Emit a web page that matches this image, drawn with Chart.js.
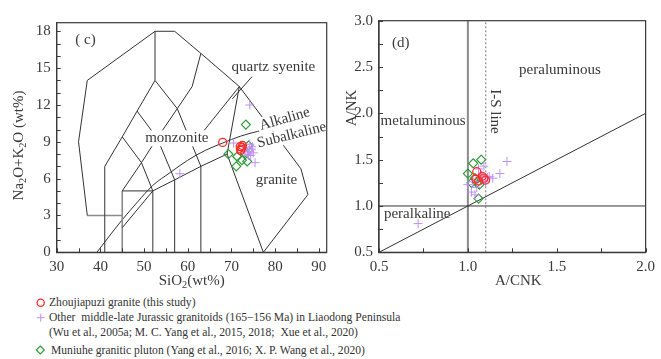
<!DOCTYPE html>
<html>
<head>
<meta charset="utf-8">
<script src="https://cdn.jsdelivr.net/npm/chart.js@4.4.1/dist/chart.umd.min.js"></script>
<style>
    body{margin:0;background:#fff;width:661px;height:359px;overflow:hidden;position:relative;
         font-family:"Liberation Serif","DejaVu Serif",serif;color:#333;}
    #grTas{position:absolute;left:0;top:0;}
    #grAn{position:absolute;left:340px;top:0;}
    #marks{position:absolute;left:0;top:290px;}
    .leg{position:absolute;left:49px;font-size:11.6px;line-height:15px;white-space:pre;}
</style>
</head>
<body>
<canvas id="grTas" width="340" height="290"></canvas>
<canvas id="grAn" width="321" height="290"></canvas>

<svg id="marks" width="80" height="69">
    <circle cx="40.7" cy="12.7" r="3.6" fill="none" stroke="#ff2b2b" stroke-width="1.3"/>
    <path d="M36.7 27.7h8M40.7 23.7v8" stroke="#c090f2" stroke-width="1"/>
    <path d="M40.3 56l4 4-4 4-4-4z" fill="none" stroke="#2f9a3a" stroke-width="1.2"/>
</svg>
<div class="leg" style="top:294.5px">Zhoujiapuzi granite (this study)</div>
<div class="leg" style="top:309.5px">Other  middle-late Jurassic granitoids (165−156 Ma) in Liaodong Peninsula</div>
<div class="leg" style="top:324.5px">(Wu et al., 2005a; M. C. Yang et al., 2015, 2018;  Xue et al., 2020)</div>
<div class="leg" style="top:343px;left:51px">Muniuhe granitic pluton (Yang et al., 2016; X. P. Wang et al., 2020)</div>

<script>
const serif = '"Liberation Serif", "DejaVu Serif", serif';
const ink = '#3a3a3a';

/* ejes */
const xTicksTas = [30, 40, 50, 60, 70, 80, 90];
const yTicksTas = [0, 3, 6, 9, 12, 15, 18];
const xTicksAn = [0.5, 1.0, 1.5, 2.0];
const yTicksAn = [0.5, 1.0, 1.5, 2.0, 2.5, 3.0];

/* (c) SiO2 vs Na2O+K2O */
const tasZhoujiapuzi = [[68.0, 8.95], [72.0, 8.6], [72.2, 8.4], [72.4, 8.55], [72.1, 8.3], [72.5, 8.7]];
const tasOther = [[74.2, 12.0], [58.2, 6.4], [70.5, 8.9], [73.5, 8.5], [74.1, 8.2], [74.6, 8.4], [75.0, 8.1],
                  [73.9, 7.9], [73.1, 8.2], [75.4, 7.3], [74.2, 8.8], [74.8, 8.6], [73.7, 8.0], [74.4, 7.9]];
const tasMuniuhe = [[73.3, 10.4], [69.3, 8.0], [71.3, 7.8], [72.4, 7.5], [73.6, 7.4], [71.1, 7.0], [73.9, 8.7], [73.0, 8.1]];

/* (d) A/CNK vs A/NK */
const anZhoujiapuzi = [[1.05, 1.37], [1.045, 1.29], [1.08, 1.32], [1.10, 1.28], [1.09, 1.30], [1.06, 1.27]];
const anOther = [[0.72, 0.81], [1.22, 1.48], [1.18, 1.35], [1.09, 1.43], [1.14, 1.30], [1.03, 1.26], [1.02, 1.15],
                 [1.04, 1.12], [1.0, 1.23], [1.10, 1.26], [1.075, 1.33], [1.12, 1.32], [1.06, 1.40], [1.08, 1.28],
                 [1.11, 1.31], [1.05, 1.20]];
const anMuniuhe = [[1.075, 1.50], [1.03, 1.46], [1.0, 1.35], [1.02, 1.25], [1.06, 1.08], [1.065, 1.23], [1.04, 1.30], [1.05, 1.25]];

/* limites de campos (Middlemost 1994) */
const tasFieldLines = [
    [[37, 14], [52.5, 18], [57, 18], [63, 16.2], [71.8, 13.5], [85.9, 6.8], [87.5, 4.7], [77.3, 0]],
    [[37, 14], [35, 9], [37, 3]],
    [[45, 5], [52, 5]],
    [[52, 0], [52, 5]],
    [[41, 0], [41, 7], [45, 9.4], [48.4, 11.5], [52.5, 14], [52.5, 18]],
    [[45, 9.4], [49.4, 7.3], [52, 5]],
    [[45, 5], [49.4, 7.3], [53, 9.3], [57.6, 11.7], [61, 13.5], [63, 16.2]],
    [[48.4, 11.5], [53, 9.3], [57, 5.9]],
    [[52.5, 14], [57.6, 11.7], [63, 7]],
    [[57, 0], [57, 5.9]],
    [[63, 0], [63, 7]],
    [[45, 2], [52, 5], [57, 5.9], [63, 7], [69, 8]],
    [[71.8, 13.5], [69, 8], [77.3, 0]],
    [[61, 8.7], [71.8, 13.5]],
    [[74.7, 14.3], [70.2, 12.5]]
];
const tasGreyLines = [
    [[37, 3], [45, 3]],
    [[45, 0], [45, 5]]
];
const alkalineCurve = [[39.2, 0], [42, 1.3], [45, 2.65], [48.5, 4.1], [52, 5.45], [56, 6.5], [60, 7.5],
                       [64, 8.3], [68, 8.9], [72, 9.45], [76, 9.85], [81, 10.25]];

const anDiagonal = [[0.5, 0.5], [2.0, 2.0]];
const anHorizontal = [[0.5, 1.0], [2.0, 1.0]];
const anMetaLine = [[1.0, 0.5], [1.0, 3.0]];
const anIsLine = [[1.1, 0.5], [1.1, 3.0]];

const toXY = arr => arr.map(p => ({x: p[0], y: p[1]}));

function lineSet(pts, color, width, extra){
    return Object.assign({
        data: toXY(pts), showLine: true, pointRadius: 0, borderColor: color,
        borderWidth: width, fill: false, order: 10
    }, extra || {});
}

function pointSets(zhou, other, muniuhe){
    return [
        {data: toXY(zhou), pointStyle: 'circle', pointRadius: 4, borderColor: '#ff2b2b',
         backgroundColor: 'rgba(0,0,0,0)', borderWidth: 1.3, order: 1},
        {data: toXY(other), pointStyle: 'cross', pointRadius: 4.5, borderColor: '#c090f2',
         backgroundColor: '#c090f2', borderWidth: 1, order: 2},
        {data: toXY(muniuhe), pointStyle: 'rectRot', pointRadius: 4.5, borderColor: '#2f9a3a',
         backgroundColor: 'rgba(0,0,0,0)', borderWidth: 1.2, order: 3}
    ];
}

function scaleOpts(min, max, vals, fmt, fit){
    return {
        type: 'linear', min: min, max: max,
        grid: {display: false, drawTicks: false},
        border: {display: true, color: ink, width: 1.2},
        ticks: {color: ink, font: {family: serif, size: 15}, padding: 6, callback: v => fmt(v)},
        afterBuildTicks: s => { s.ticks = vals.map(v => ({value: v})); },
        afterFit: fit
    };
}

/* marco + marcas interiores */
const framePlugin = {
    id: 'framePlugin',
    afterDraw(chart, args, o){
        const {ctx, chartArea: a, scales: {x, y}} = chart;
        ctx.save();
        ctx.strokeStyle = ink;
        ctx.lineWidth = 1.2;
        ctx.strokeRect(a.left, a.top, a.right - a.left, a.bottom - a.top);
        ctx.lineWidth = 1;
        ctx.beginPath();
        for(let i = 0; ; i++){
            const v = x.min + i * o.xStep;
            if(v > x.max + 1e-9) break;
            const px = Math.round(x.getPixelForValue(v)) + 0.5;
            ctx.moveTo(px, a.bottom); ctx.lineTo(px, a.bottom - 4);
        }
        for(let i = 0; ; i++){
            const v = y.min + i * o.yStep;
            if(v > y.max + 1e-9) break;
            const py = Math.round(y.getPixelForValue(v)) + 0.5;
            ctx.moveTo(a.left, py); ctx.lineTo(a.left + 4, py);
        }
        ctx.stroke();
        ctx.restore();
    }
};

function richText(ctx, parts, x, y, size, rot){
    ctx.save();
    ctx.translate(x, y);
    ctx.rotate(rot);
    ctx.textBaseline = 'middle';
    ctx.textAlign = 'left';
    let w = 0;
    parts.forEach(p => { ctx.font = (p[1] ? size * 0.68 : size) + 'px ' + serif; w += ctx.measureText(p[0]).width; });
    let cx = -w / 2;
    parts.forEach(p => {
        ctx.font = (p[1] ? size * 0.68 : size) + 'px ' + serif;
        ctx.fillText(p[0], cx, p[1] ? size * 0.28 : 0);
        cx += ctx.measureText(p[0]).width;
    });
    ctx.restore();
}

/* etiquetas de campos y titulos */
const textPlugin = {
    id: 'textPlugin',
    afterDatasetsDraw(chart, args, o){
        const {ctx, chartArea: a, scales: {x, y}} = chart;
        ctx.save();
        ctx.fillStyle = ink;
        o.labels.forEach(l => {
            const px = x.getPixelForValue(l.x), py = y.getPixelForValue(l.y);
            ctx.save();
            ctx.translate(px, py);
            ctx.rotate((l.rot || 0) * Math.PI / 180);
            ctx.font = '15px ' + serif;
            ctx.textAlign = 'center';
            ctx.textBaseline = 'middle';
            if(l.bg){
                const w = ctx.measureText(l.text).width;
                ctx.fillStyle = '#fff';
                ctx.fillRect(-w / 2 - 2, -8, w + 4, 16);
                ctx.fillStyle = ink;
            }
            ctx.fillText(l.text, 0, 0);
            ctx.restore();
        });
        o.titles.forEach(t => {
            richText(ctx, t.parts, t.dx(a), t.dy(a), 15, t.rot * Math.PI / 180);
        });
        ctx.restore();
    }
};

const baseOpts = {
    responsive: false,
    animation: false,
    events: [],
    plugins: {legend: {display: false}, tooltip: {enabled: false}}
};

/* (c) */
new Chart(document.getElementById('grTas').getContext('2d'), {
    type: 'scatter',
    data: {
        datasets: [
            ...pointSets(tasZhoujiapuzi, tasOther, tasMuniuhe),
            ...tasFieldLines.map(l => lineSet(l, '#333', 1)),
            ...tasGreyLines.map(l => lineSet(l, '#8a8a8a', 1.6)),
            lineSet(alkalineCurve, '#333', 1, {tension: 0.4, cubicInterpolationMode: 'monotone'})
        ]
    },
    options: Object.assign({}, baseOpts, {
        layout: {padding: {top: 22.7, right: 13.3, left: 0, bottom: 0}},
        scales: {
            x: scaleOpts(30, 91.8, xTicksTas, v => String(v), s => { s.height = 37.7; }),
            y: scaleOpts(0, 18.7, yTicksTas, v => String(v), s => { s.width = 56.7; })
        },
        plugins: Object.assign({}, baseOpts.plugins, {
            framePlugin: {xStep: 5, yStep: 1},
            textPlugin: {
                labels: [
                    {text: '( c)', x: 36.6, y: 17.3},
                    {text: 'quartz syenite', x: 79.6, y: 15.1, bg: true},
                    {text: 'monzonite', x: 57.5, y: 9.28, bg: true},
                    {text: 'Alkaline', x: 82.2, y: 10.85, rot: -16, bg: true},
                    {text: 'Subalkaline', x: 83.8, y: 9.55, rot: -14, bg: true},
                    {text: 'granite', x: 80.3, y: 5.9}
                ],
                titles: [
                    {parts: [['SiO', 0], ['2', 1], ['(wt%)', 0]], rot: 0,
                     dx: a => (a.left + a.right) / 2, dy: a => a.bottom + 29},
                    {parts: [['Na', 0], ['2', 1], ['O+K', 0], ['2', 1], ['O (wt%)', 0]], rot: -90,
                     dx: a => a.left - 38, dy: a => (a.top + a.bottom) / 2 + 8}
                ]
            }
        })
    }),
    plugins: [framePlugin, textPlugin]
});

/* (d) */
new Chart(document.getElementById('grAn').getContext('2d'), {
    type: 'scatter',
    data: {
        datasets: [
            ...pointSets(anZhoujiapuzi, anOther, anMuniuhe),
            lineSet(anDiagonal, '#333', 1),
            lineSet(anHorizontal, '#333', 1),
            lineSet(anMetaLine, '#8a8a8a', 2),
            lineSet(anIsLine, '#9a9a9a', 1.4, {borderDash: [2, 2]})
        ]
    },
    options: Object.assign({}, baseOpts, {
        layout: {padding: {top: 20.7, right: 14.3, left: 0, bottom: 0}},
        scales: {
            x: scaleOpts(0.5, 2.0, xTicksAn, v => v.toFixed(1), s => { s.height = 37.7; }),
            y: scaleOpts(0.5, 3.0, yTicksAn, v => v.toFixed(1), s => { s.width = 39; })
        },
        plugins: Object.assign({}, baseOpts.plugins, {
            framePlugin: {xStep: 0.25, yStep: 0.25},
            textPlugin: {
                labels: [
                    {text: '(d)', x: 0.623, y: 2.76},
                    {text: 'peraluminous', x: 1.518, y: 2.468},
                    {text: 'metaluminous', x: 0.748, y: 1.92},
                    {text: 'I-S line', x: 1.15, y: 2.02, rot: 90},
                    {text: 'peralkaline', x: 0.715, y: 0.91}
                ],
                titles: [
                    {parts: [['A/CNK', 0]], rot: 0,
                     dx: a => (a.left + a.right) / 2 + 6, dy: a => a.bottom + 29},
                    {parts: [['A/NK', 0]], rot: -90,
                     dx: a => a.left - 27, dy: a => 108}
                ]
            }
        })
    }),
    plugins: [framePlugin, textPlugin]
});
</script>
</body>
</html>
